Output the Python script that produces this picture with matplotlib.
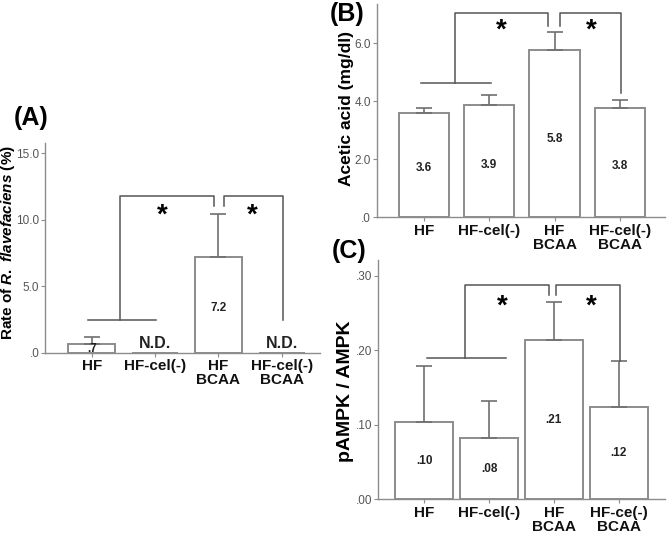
import numpy as np
import matplotlib
matplotlib.use('Agg')
import matplotlib.pyplot as plt

plt.rcParams['font.family'] = ['Liberation Sans', 'DejaVu Sans']
plt.rcParams['mathtext.fontset'] = 'custom'
plt.rcParams['mathtext.it'] = 'Liberation Sans:italic:bold'
plt.rcParams['mathtext.rm'] = 'Liberation Sans:bold'

# data
groups_a = ['HF', 'HF-cel(-)', 'HF\nBCAA', 'HF-cel(-)\nBCAA']
groups_c = ['HF', 'HF-cel(-)', 'HF\nBCAA', 'HF-ce(-)\nBCAA']

rflav = [0.7, 0.0, 7.2, 0.0]
rflav_err = [0.5, 0.0, 3.2, 0.0]
rflav_lbl = ['.7', '', '7.2', '']
rflav_nd = [False, True, False, True]

acetic = [3.6, 3.87, 5.75, 3.78]
acetic_err = [0.18, 0.35, 0.65, 0.26]
acetic_lbl = ['3.6', '3.9', '5.8', '3.8']

ampk = [0.104, 0.082, 0.214, 0.124]
ampk_err = [0.075, 0.050, 0.051, 0.062]
ampk_lbl = ['.10', '.08', '.21', '.12']

edge = '#8c8c8c'
errc = '#707070'
brc = '#555555'

fig = plt.figure(figsize=(6.69, 5.34), dpi=100)


def base_axes(rect, ylim, xlim, ticks, ticklabels):
    ax = fig.add_axes(rect)
    ax.set_xlim(*xlim)
    ax.set_ylim(*ylim)
    for s in ['top', 'right']:
        ax.spines[s].set_visible(False)
    for s in ['left', 'bottom']:
        ax.spines[s].set_color('#8c8c8c')
        ax.spines[s].set_linewidth(1.0)
    ax.set_yticks(ticks)
    ax.set_yticklabels(ticklabels, fontsize=8.5, color='#555555')
    ax.tick_params(axis='y', length=3, width=0.8, color='#8c8c8c', pad=1)
    ax.tick_params(axis='x', length=3, width=0.8, color='#8c8c8c', pad=1.5)
    return ax


def draw_bars(ax, groups, vals, errs, width, lbls, lblfrac=0.47):
    x = np.arange(len(groups))
    ax.bar(x, vals, width=width, color='white', edgecolor=edge, linewidth=1.4, zorder=2)
    for xi, v, e in zip(x, vals, errs):
        if e > 0:
            ax.errorbar(xi, v, yerr=[[0], [e]], fmt='none', ecolor=errc,
                        elinewidth=1.2, capsize=5.5, capthick=1.2, zorder=3)
    for xi, v, t in zip(x, vals, lbls):
        if t:
            ax.text(xi, v * lblfrac, t, ha='center', va='center', fontsize=8.5,
                    fontweight='bold', color='#222222', zorder=4)
    ax.set_xticks(x)
    ax.set_xticklabels(groups, fontsize=11, fontweight='bold', color='#111111',
                       linespacing=1.0)


def brackets(ax, ylow, xl0, xl1, xv, yt, xtip1, ytip, xtip2, xr, yr, stars_x, star_y):
    kw = dict(color=brc, linewidth=1.1, zorder=5)
    ax.plot([xl0, xl1], [ylow, ylow], **kw)
    ax.plot([xv, xv, xtip1, xtip1], [ylow, yt, yt, ytip], **kw)
    ax.plot([xtip2, xtip2, xr, xr], [ytip, yt, yt, yr], **kw)
    for sx in stars_x:
        ax.text(sx, star_y, '*', ha='center', va='center', fontsize=20,
                fontweight='bold', color='black', zorder=5)


# (A)
axA = base_axes([0.0673, 0.339, 0.411, 0.394], (0, 15.8), (-0.735, 3.6),
                [0, 5, 10, 15], ['.0', '5.0', '10.0', '15.0'])
draw_bars(axA, groups_a, rflav, rflav_err, 0.735, rflav_lbl)
for xi, nd in enumerate(rflav_nd):
    if nd:
        axA.text(xi, 0.7, 'N.D.', ha='center', va='center', fontsize=11.5,
                 fontweight='bold', color='#222222')
axA.set_ylabel(r'Rate of $R.\ flavefaciens$ (%)', fontsize=11, fontweight='bold')
axA.yaxis.set_label_coords(-0.102, 0.525)
brackets(axA, 2.5, -0.05, 1.02, 0.45, 11.8, 1.93, 11.0, 2.08, 3.01, 2.5,
         [1.12, 2.54], 10.3)

# (B)
axB = base_axes([0.563, 0.593, 0.431, 0.3995], (0, 7.35), (-0.724, 3.69),
                [0, 2, 4, 6], ['.0', '2.0', '4.0', '6.0'])
draw_bars(axB, groups_a, acetic, acetic_err, 0.77, acetic_lbl)
axB.set_ylabel('Acetic acid (mg/dl)', fontsize=12.5, fontweight='bold')
axB.yaxis.set_label_coords(-0.079, 0.51)
brackets(axB, 4.62, -0.04, 1.02, 0.47, 7.05, 1.90, 6.6, 2.08, 3.02, 4.3,
         [1.19, 2.56], 6.43)

# (C)
axC = base_axes([0.5646, 0.065, 0.4294, 0.448], (0, 0.321), (-0.713, 3.71),
                [0, 0.1, 0.2, 0.3], ['.00', '.10', '.20', '.30'])
draw_bars(axC, groups_c, ampk, ampk_err, 0.9, ampk_lbl, lblfrac=0.5)
axC.set_ylabel('pAMPK / AMPK', fontsize=14, fontweight='bold')
axC.yaxis.set_label_coords(-0.083, 0.45)
brackets(axC, 0.19, 0.05, 1.26, 0.63, 0.288, 1.92, 0.274, 2.03, 3.01, 0.186,
         [1.2, 2.57], 0.258)

# panel letters
for px, py, t in [(31, 118, '(A)'), (347, 14, '(B)'), (349, 251, '(C)')]:
    fig.text(px / 669, 1 - py / 534, t, fontsize=18, fontweight='bold',
             ha='center', va='center')

fig.savefig('out.png', dpi=100)
